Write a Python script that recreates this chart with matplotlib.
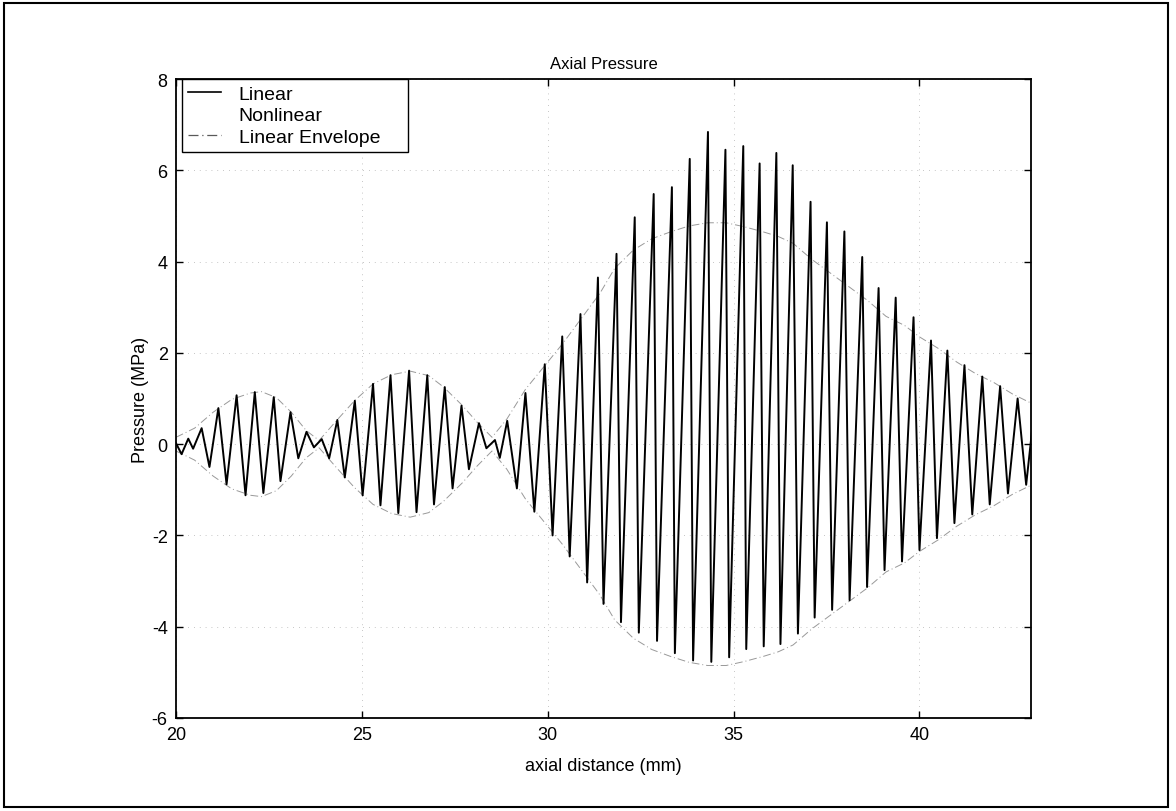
import matplotlib
matplotlib.use("Agg")
import matplotlib.pyplot as plt
from matplotlib.lines import Line2D
from matplotlib.patches import Rectangle

plt.rcParams['font.family'] = ['Liberation Sans', 'DejaVu Sans']
plt.rcParams['axes.unicode_minus'] = False

# Extrema of the pressure trace (axial distance mm, pressure MPa)
trace_x = [20.00, 20.15, 20.33, 20.46, 20.69, 20.90, 21.14, 21.36, 21.63, 21.87,
           22.12, 22.35, 22.63, 22.81, 23.08, 23.29, 23.51, 23.71, 23.92, 24.12,
           24.34, 24.54, 24.81, 25.02, 25.30, 25.50, 25.77, 25.98, 26.27, 26.47,
           26.76, 26.94, 27.23, 27.44, 27.68, 27.88, 28.15, 28.35, 28.58, 28.71,
           28.91, 29.17, 29.40, 29.64, 29.92, 30.13, 30.39, 30.59, 30.88, 31.06,
           31.35, 31.50, 31.85, 31.97, 32.34, 32.45, 32.85, 32.94, 33.34, 33.42,
           33.82, 33.91, 34.31, 34.40, 34.78, 34.88, 35.26, 35.34, 35.70, 35.81,
           36.15, 36.26, 36.59, 36.73, 37.07, 37.18, 37.51, 37.65, 37.98, 38.12,
           38.46, 38.59, 38.90, 39.06, 39.36, 39.53, 39.84, 40.00, 40.31, 40.47,
           40.75, 40.94, 41.21, 41.42, 41.69, 41.89, 42.17, 42.38, 42.64, 42.87,
           43.10]
trace_p = [0.02, -0.22, 0.12, -0.10, 0.35, -0.50, 0.79, -0.88, 1.07, -1.12,
           1.14, -1.07, 1.03, -0.81, 0.70, -0.31, 0.27, -0.07, 0.11, -0.31,
           0.53, -0.73, 0.95, -1.12, 1.32, -1.34, 1.51, -1.51, 1.61, -1.49,
           1.51, -1.32, 1.25, -0.97, 0.84, -0.55, 0.46, -0.09, 0.09, -0.30,
           0.51, -0.97, 1.12, -1.48, 1.75, -2.00, 2.36, -2.46, 2.85, -3.03,
           3.65, -3.50, 4.17, -3.90, 4.97, -4.13, 5.48, -4.31, 5.63, -4.58,
           6.25, -4.74, 6.84, -4.77, 6.45, -4.67, 6.53, -4.49, 6.15, -4.43,
           6.38, -4.38, 6.11, -4.15, 5.31, -3.80, 4.86, -3.63, 4.66, -3.42,
           4.10, -3.13, 3.42, -2.76, 3.21, -2.57, 2.78, -2.32, 2.27, -2.06,
           2.05, -1.73, 1.73, -1.54, 1.48, -1.32, 1.27, -1.08, 1.00, -0.89,
           0.84]

# Linear envelope (symmetric about zero)
env_x = [20.0, 20.5, 21.0, 21.5, 22.0, 22.3, 22.7, 23.1, 23.5, 23.85,
         24.3, 24.8, 25.3, 25.8, 26.3, 26.8, 27.2, 27.7, 28.1, 28.5,
         28.9, 29.4, 29.9, 30.4, 30.9, 31.4, 31.8, 32.3, 32.8, 33.3,
         33.8, 34.3, 34.8, 35.3, 35.8, 36.2, 36.6, 37.1, 37.6, 38.1,
         38.6, 39.1, 39.6, 40.0, 40.5, 41.0, 41.5, 42.0, 42.5, 43.0]
env_p = [0.15, 0.35, 0.70, 0.98, 1.12, 1.15, 1.02, 0.70, 0.30, 0.08,
         0.50, 0.95, 1.32, 1.52, 1.60, 1.50, 1.25, 0.85, 0.48, 0.15,
         0.55, 1.20, 1.70, 2.20, 2.75, 3.30, 3.85, 4.25, 4.50, 4.65,
         4.78, 4.85, 4.85, 4.76, 4.65, 4.55, 4.40, 4.05, 3.75, 3.45,
         3.15, 2.80, 2.60, 2.35, 2.10, 1.80, 1.55, 1.35, 1.10, 0.90]

x_ticks = [20, 25, 30, 35, 40]
y_ticks = [-6, -4, -2, 0, 2, 4, 6, 8]

W, H = 1176, 812
fig = plt.figure(figsize=(W / 100, H / 100), dpi=100)
fig.patches.append(Rectangle((4 / W, 4 / H), 1164 / W, 804 / H,
                             transform=fig.transFigure, fill=False,
                             edgecolor='black', linewidth=1.5))

ax_l, ax_r, ax_t, ax_b = 176, 1031, 80, 719
ax = fig.add_axes([ax_l / W, 1 - ax_b / H, (ax_r - ax_l) / W, (ax_b - ax_t) / H])

ax.plot(trace_x, trace_p, color='black', linewidth=1.4, zorder=3)
env_style = dict(color='0.6', linewidth=0.7, linestyle=(0, (8, 3, 1, 3)), zorder=2)
ax.plot(env_x, env_p, **env_style)
ax.plot(env_x, [-v for v in env_p], **env_style)

ax.set_xlim(20, 43)
ax.set_ylim(-6, 8)
ax.set_xticks(x_ticks)
ax.set_yticks(y_ticks)
ax.grid(True, linestyle=(0, (1, 6)), color='0.7', linewidth=0.6)
ax.tick_params(direction='in', top=True, right=True, length=5, width=1,
               labelsize=13, pad=6)
for s in ax.spines.values():
    s.set_linewidth(1.3)

ax.set_title('Axial Pressure', fontsize=12, pad=8)
ax.set_xlabel('axial distance (mm)', fontsize=13, labelpad=10)
ax.set_ylabel('Pressure (MPa)', fontsize=13, labelpad=2)

handles = [Line2D([], [], color='black', linewidth=1.2),
           Line2D([], [], color='none'),
           Line2D([], [], color='0.35', linewidth=0.9, linestyle=(0, (8, 3, 1, 3)))]
leg_w = (408 - 182) / (ax_r - ax_l)
leg_x0 = (182 - ax_l) / (ax_r - ax_l)
leg = ax.legend(handles, ['Linear', 'Nonlinear', 'Linear Envelope'],
                loc='upper left', bbox_to_anchor=(leg_x0, 0.0, leg_w, 1.0),
                mode='expand', borderaxespad=0.0,
                fontsize=14, fancybox=False, framealpha=1, edgecolor='black',
                handlelength=1.7, handletextpad=0.9, labelspacing=0.2,
                borderpad=0.32)
leg.get_frame().set_linewidth(1.0)

fig.savefig('out.png', dpi=100)
